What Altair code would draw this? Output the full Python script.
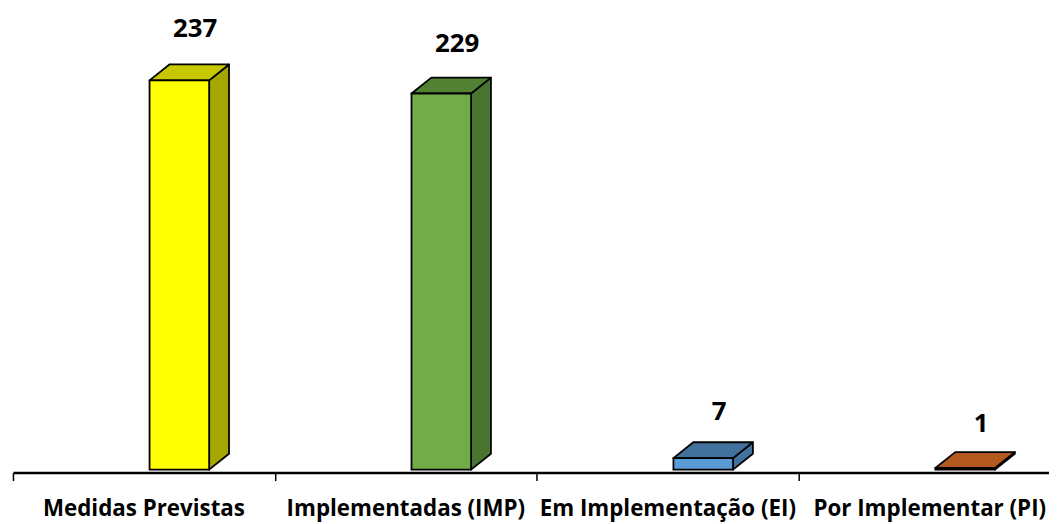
import altair as alt
import pandas as pd

categories = ["Medidas Previstas", "Implementadas (IMP)", "Em Implementação (EI)", "Por Implementar (PI)"]
values = [237, 229, 7, 1]
front_colors = ["#FFFF00", "#70AD47", "#5B9BD5", "#C55A11"]
side_colors = ["#A6A600", "#4A7530", "#41729F", "#8F4A17"]
top_colors = ["#C8C800", "#548235", "#41719C", "#B55A1E"]
tick_values = [0, 1, 2, 3]

# geometry (pixels converted to data units)
W, H = 1043, 463
BAND_PX = 263.7
Y_MAX = 280
py = H / Y_MAX
face_start = 137.5 / BAND_PX
face_w = 60 / BAND_PX
dxu = 20 / BAND_PX
dyu = 16 / py
label_off = 46 / BAND_PX

front_rows, side_rows, top_rows = [], [], []
for i, (c, v) in enumerate(zip(categories, values)):
    x0 = i + face_start
    x1 = x0 + face_w
    front_rows.append(dict(cat=c, value=v, x0=x0, x1=x1, xc=i + 0.5, base=0,
                           xl=x0 + label_off, yl=v + (44 - 2.6 * i) / py, fill=front_colors[i]))
    side_rows.append(dict(cat=c, x=x1, ylo=0, yhi=v, fill=side_colors[i]))
    side_rows.append(dict(cat=c, x=x1 + dxu, ylo=dyu, yhi=v + dyu, fill=side_colors[i]))
    top_rows.append(dict(cat=c, y=v, xa=x0, xb=x1, fill=top_colors[i]))
    top_rows.append(dict(cat=c, y=v + dyu, xa=x0 + dxu, xb=x1 + dxu, fill=top_colors[i]))

front_df = pd.DataFrame(front_rows)
side_df = pd.DataFrame(side_rows)
top_df = pd.DataFrame(top_rows)

xs = alt.Scale(domain=[0, W / BAND_PX], nice=False, zero=False)
ys = alt.Scale(domain=[0, Y_MAX], nice=False, zero=False)
AX = alt.Axis(values=tick_values, labels=False, ticks=True, tickSize=8, tickWidth=1.5,
              tickColor="black", domainColor="black", domainWidth=2.5, grid=False,
              title=None, offset=3)
FONT = "Open Sans"
SW = 1.8

side = alt.Chart(side_df).mark_area(stroke="black", strokeWidth=SW, strokeJoin="round", opacity=1).encode(
    x=alt.X("x:Q", scale=xs, axis=AX),
    y=alt.Y("yhi:Q", scale=ys, axis=None, stack=None),
    y2="ylo:Q",
    detail="cat:N",
    fill=alt.Fill("fill:N", scale=None),
)

top = alt.Chart(top_df).mark_area(orient="horizontal", stroke="black", strokeWidth=SW, strokeJoin="round", opacity=1).encode(
    y=alt.Y("y:Q", scale=ys, axis=None),
    x=alt.X("xa:Q", scale=xs, axis=AX, stack=None),
    x2="xb:Q",
    detail="cat:N",
    fill=alt.Fill("fill:N", scale=None),
)

front = alt.Chart(front_df).mark_rect(stroke="black", strokeWidth=SW).encode(
    x=alt.X("x0:Q", scale=xs, axis=AX),
    x2="x1:Q",
    y=alt.Y("value:Q", scale=ys, axis=None),
    y2="base:Q",
    fill=alt.Fill("fill:N", scale=None),
)

value_labels = alt.Chart(front_df).mark_text(font=FONT, fontSize=26, fontWeight="bold", color="black",
                                             baseline="alphabetic").encode(
    x=alt.X("xl:Q", scale=xs, axis=AX),
    y=alt.Y("yl:Q", scale=ys, axis=None),
    text="value:Q",
)

cat_labels = alt.Chart(front_df).mark_text(font=FONT, fontSize=22.5, fontWeight="bold", color="black",
                                           baseline="alphabetic", dy=47).encode(
    x=alt.X("xc:Q", scale=xs, axis=AX),
    y=alt.Y("base:Q", scale=ys, axis=None),
    text="cat:N",
)

chart = alt.layer(side, top, front, value_labels, cat_labels).properties(
    width=W, height=H,
    padding={"left": 4, "top": 0, "right": 0, "bottom": 0},
    background="white",
).configure_view(stroke=None)

chart.save("out.html", embed_options={"renderer": "svg", "actions": False})
